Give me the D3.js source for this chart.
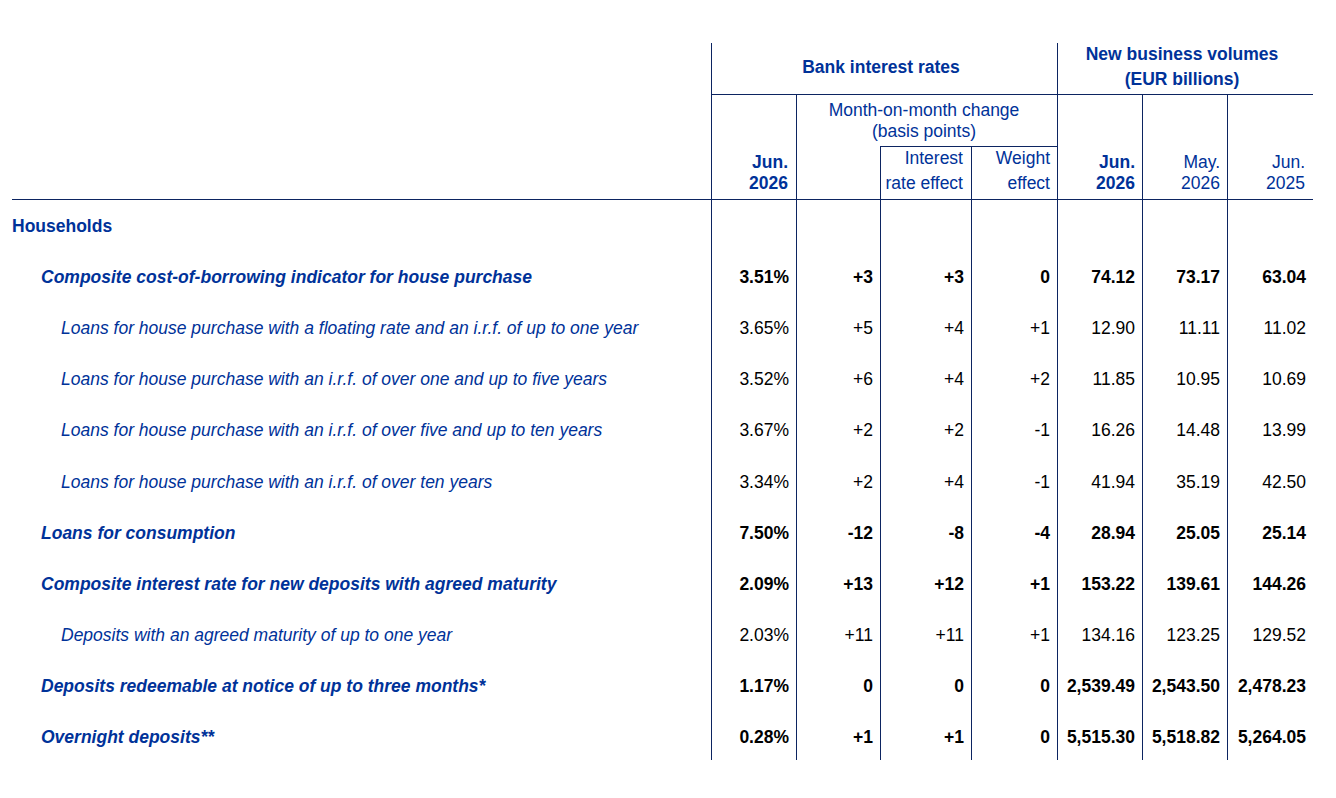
<!DOCTYPE html>
<html>
<head>
<meta charset="utf-8">
<script src="https://cdn.jsdelivr.net/npm/d3@7"></script>
<style>
  body { margin: 0; background: #fff; }
  text { font-family: Arial, "Liberation Sans", sans-serif; font-size: 17.5px; }
</style>
</head>
<body>
<script>
// row data
var labels = [
  "Households",
  "Composite cost-of-borrowing indicator for house purchase",
  "Loans for house purchase with a floating rate and an i.r.f. of up to one year",
  "Loans for house purchase with an i.r.f. of over one and up to five years",
  "Loans for house purchase with an i.r.f. of over five and up to ten years",
  "Loans for house purchase with an i.r.f. of over ten years",
  "Loans for consumption",
  "Composite interest rate for new deposits with agreed maturity",
  "Deposits with an agreed maturity of up to one year",
  "Deposits redeemable at notice of up to three months*",
  "Overnight deposits**"
];
var levels = [0, 1, 2, 2, 2, 2, 1, 1, 2, 1, 1];
var rateJun26 = [null, "3.51%", "3.65%", "3.52%", "3.67%", "3.34%", "7.50%", "2.09%", "2.03%", "1.17%", "0.28%"];
var momChange = [null, "+3", "+5", "+6", "+2", "+2", "-12", "+13", "+11", "0", "+1"];
var rateEffect = [null, "+3", "+4", "+4", "+2", "+4", "-8", "+12", "+11", "0", "+1"];
var weightEffect = [null, "0", "+1", "+2", "-1", "-1", "-4", "+1", "+1", "0", "0"];
var volJun26 = [null, "74.12", "12.90", "11.85", "16.26", "41.94", "28.94", "153.22", "134.16", "2,539.49", "5,515.30"];
var volMay26 = [null, "73.17", "11.11", "10.95", "14.48", "35.19", "25.05", "139.61", "123.25", "2,543.50", "5,518.82"];
var volJun25 = [null, "63.04", "11.02", "10.69", "13.99", "42.50", "25.14", "144.26", "129.52", "2,478.23", "5,264.05"];

var blue = "#003299", line = "#0c2461";

var width = 1336, height = 798;

var svg = d3.select("body").append("svg")
    .attr("width", width)
    .attr("height", height);

// column edges
var edges = [711, 796, 880, 971, 1057, 1142, 1227, 1313];
var columns = [rateJun26, momChange, rateEffect, weightEffect, volJun26, volMay26, volJun25];

var y = d3.scaleLinear().domain([0, 10]).range([225, 736]);

// lines
var lines = [
  [711, 43, 711, 760], [1057, 43, 1057, 760],
  [796, 94, 796, 760], [1142, 94, 1142, 760], [1227, 94, 1227, 760],
  [880, 146, 880, 760], [971, 146, 971, 760],
  [711, 94, 1313, 94], [880, 146, 1057, 146], [12, 199, 1313, 199]
];
svg.selectAll("line").data(lines).enter().append("line")
  .attr("x1", function(d){ return d[0]; })
  .attr("y1", function(d){ return d[1]; })
  .attr("x2", function(d){ return d[2]; })
  .attr("y2", function(d){ return d[3]; })
  .attr("stroke", line)
  .attr("stroke-width", 1)
  .attr("shape-rendering", "crispEdges");

// header
var header = [
  { t: "Bank interest rates", x: 881, y: 73, a: "middle", b: true },
  { t: "New business volumes", x: 1182, y: 60, a: "middle", b: true },
  { t: "(EUR billions)", x: 1182, y: 85, a: "middle", b: true },
  { t: "Month-on-month change", x: 924, y: 116, a: "middle" },
  { t: "(basis points)", x: 924, y: 137, a: "middle" },
  { t: "Interest", x: 963, y: 164, a: "end" },
  { t: "rate effect", x: 963, y: 189, a: "end" },
  { t: "Weight", x: 1050, y: 164, a: "end" },
  { t: "effect", x: 1050, y: 189, a: "end" },
  { t: "Jun.", x: 788, y: 168, a: "end", b: true },
  { t: "2026", x: 788, y: 189, a: "end", b: true },
  { t: "Jun.", x: 1135, y: 168, a: "end", b: true },
  { t: "2026", x: 1135, y: 189, a: "end", b: true },
  { t: "May.", x: 1220, y: 168, a: "end" },
  { t: "2026", x: 1220, y: 189, a: "end" },
  { t: "Jun.", x: 1305, y: 168, a: "end" },
  { t: "2025", x: 1305, y: 189, a: "end" }
];
svg.selectAll("text.head").data(header).enter().append("text")
  .attr("class", "head")
  .attr("x", function(d){ return d.x; })
  .attr("y", function(d){ return d.y; })
  .attr("text-anchor", function(d){ return d.a; })
  .attr("font-weight", function(d){ return d.b ? "bold" : "normal"; })
  .attr("fill", blue)
  .text(function(d){ return d.t; });

// row labels
var indent = [12, 41, 61];
svg.selectAll("text.label").data(labels).enter().append("text")
  .attr("class", "label")
  .attr("x", function(d, i){ return indent[levels[i]]; })
  .attr("y", function(d, i){ return y(i) + 7; })
  .attr("font-weight", function(d, i){ return levels[i] < 2 ? "bold" : "normal"; })
  .attr("font-style", function(d, i){ return levels[i] > 0 ? "italic" : "normal"; })
  .attr("fill", blue)
  .text(function(d){ return d; });

// values (null rows stay empty, so indices line up with labels)
columns.forEach(function(col, c){
  svg.selectAll("text.col" + c).data(col).enter()
    .append("text")
    .attr("class", "col" + c)
    .attr("x", edges[c + 1] - 7)
    .attr("y", function(d, i){ return y(i) + 7; })
    .attr("text-anchor", "end")
    .attr("font-weight", function(d, i){ return levels[i] === 1 ? "bold" : "normal"; })
    .attr("fill", "#000")
    .text(function(d){ return d === null ? "" : d; });
});
</script>
</body>
</html>
